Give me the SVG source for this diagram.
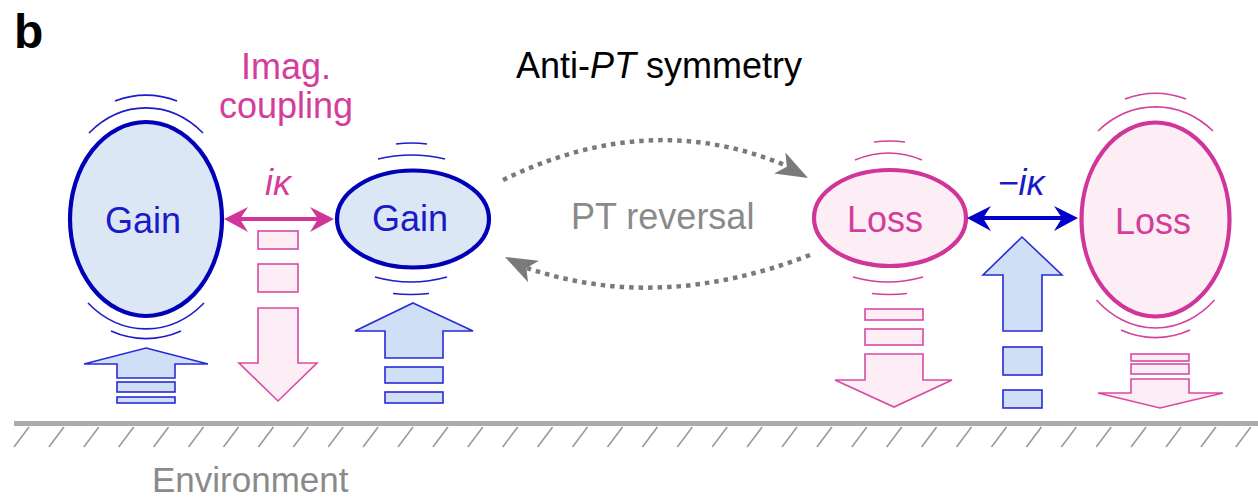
<svg xmlns="http://www.w3.org/2000/svg" width="1258" height="500" viewBox="0 0 1258 500">
<style>
text{font-family:"Liberation Sans",Arial,sans-serif;font-size:36px}
.blueNode{fill:#dce7f5;stroke:#0000b8;stroke-width:4.2}
.pinkNode{fill:#fdedf5;stroke:#d0359a;stroke-width:4.2}
.bArc{fill:none;stroke:#1c1ccc;stroke-width:1.6}
.pArc{fill:none;stroke:#d4409e;stroke-width:1.6}
.bArrow{fill:#cfe0f6;stroke:#2a2ad8;stroke-width:1.6;stroke-linejoin:miter}
.pArrow{fill:#fdeef6;stroke:#d84aa2;stroke-width:1.6;stroke-linejoin:miter}
.bt{fill:#1a1ac8;text-anchor:middle}
.pt{fill:#d43d9c;text-anchor:middle}
.gray{fill:#8a8a8a}
.dots{fill:none;stroke:#7a7a7a;stroke-width:4.5;stroke-dasharray:4.5 5}
.hatch{stroke:#9a9a9a;stroke-width:1.6}
</style>
<text x="14" y="48" style="font-size:48px;font-weight:bold;fill:#000">b</text>
<text x="516" y="78" style="fill:#000">Anti-<tspan font-style="italic">PT</tspan> symmetry</text>
<text x="286" y="79" class="pt">Imag.</text>
<text x="286" y="118" class="pt">coupling</text>

<g id="gain1">
<ellipse cx="146" cy="219" rx="76" ry="97" class="blueNode"/>
<text x="143" y="233" class="bt">Gain</text>
<path class="bArc" d="M89,133 A90,111 0 0 1 203,133"/>
<path class="bArc" d="M115,101 A103,124 0 0 1 177,101"/>
<path class="bArc" d="M88,303 A90,110 0 0 0 204,303"/>
<path class="bArc" d="M111,331 A100,120 0 0 0 181,331"/>
<polygon class="bArrow" points="146,348 208,364 175,364 175,378 117,378 117,364 84,364"/>
<rect class="bArrow" x="117" y="382" width="58" height="10"/>
<rect class="bArrow" x="117" y="397" width="58" height="6"/>
</g>

<g id="gain2">
<ellipse cx="413" cy="219" rx="76" ry="48.5" class="blueNode"/>
<text x="410" y="231" class="bt">Gain</text>
<path class="bArc" d="M396,144 Q411.5,142 427,144"/>
<path class="bArc" d="M378,159 Q411.5,151 445,159"/>
<path class="bArc" d="M375,277 Q411,287 447,277"/>
<path class="bArc" d="M393,293.5 Q411,295.5 429,293.5"/>
<polygon class="bArrow" points="413,303 473,331 443,331 443,358 385,358 385,331 355,331"/>
<rect class="bArrow" x="385" y="367" width="58" height="16"/>
<rect class="bArrow" x="385" y="392" width="58" height="11"/>
</g>

<g id="loss1">
<ellipse cx="890" cy="218" rx="76" ry="48" class="pinkNode"/>
<text x="885" y="232" class="pt">Loss</text>
<path class="pArc" d="M874,142 Q889.5,140 905,142"/>
<path class="pArc" d="M855,160 Q888.5,146 922,160"/>
<path class="pArc" d="M853,277 Q888,287 923,277"/>
<path class="pArc" d="M872,293.5 Q889.5,295.5 907,293.5"/>
<rect class="pArrow" x="865" y="309" width="58" height="11"/>
<rect class="pArrow" x="865" y="329" width="58" height="16"/>
<polygon class="pArrow" points="865,354 923,354 923,380 952,380 894,407 835,380 865,380"/>
</g>

<g id="loss2">
<ellipse cx="1155.5" cy="219.5" rx="74" ry="97" class="pinkNode"/>
<text x="1153" y="234" class="pt">Loss</text>
<path class="pArc" d="M1098,131 A93,112.5 0 0 1 1213,131"/>
<path class="pArc" d="M1125,99 A103,126.5 0 0 1 1186,99"/>
<path class="pArc" d="M1096.5,300 A88,108.5 0 0 0 1214.5,300"/>
<path class="pArc" d="M1121,330 A98,118.5 0 0 0 1190,330"/>
<rect class="pArrow" x="1131" y="354" width="58" height="7"/>
<rect class="pArrow" x="1131" y="364" width="58" height="10"/>
<polygon class="pArrow" points="1131,379 1189,379 1189,393 1223,393 1160,408 1098,393 1131,393"/>
</g>

<g id="imagDown">
<rect class="pArrow" x="258" y="231" width="40" height="18"/>
<rect class="pArrow" x="258" y="264" width="40" height="28"/>
<polygon class="pArrow" points="258,308 298,308 298,363 317,363 278,401 239,363 258,363"/>
</g>

<g id="blueUp">
<polygon class="bArrow" points="1022,237 1062,275 1042,275 1042,331 1003,331 1003,275 983,275"/>
<rect class="bArrow" x="1003" y="347" width="39" height="28"/>
<rect class="bArrow" x="1003" y="390" width="39" height="18"/>
</g>

<g id="connectors">
<line x1="240" y1="219" x2="318" y2="219" stroke="#d0359a" stroke-width="4"/>
<path d="M224,219 L248,207 L240,219 L248,232 Z" fill="#d0359a"/>
<path d="M334,219 L310,207 L318,219 L310,232 Z" fill="#d0359a"/>
<text x="278" y="195" class="pt" font-style="italic">iκ</text>

<line x1="983" y1="218" x2="1062" y2="218" stroke="#0000cc" stroke-width="4"/>
<path d="M967,218 L991,206 L983,218 L991,231 Z" fill="#0000cc"/>
<path d="M1078,218 L1054,206 L1062,218 L1054,231 Z" fill="#0000cc"/>
<text x="1021" y="195" class="bt" font-style="italic">−iκ</text>

<path class="dots" d="M503,180 Q650,108 787,166"/>
<path d="M0,0 L-32,-12 L-24,0 L-32,12 Z" fill="#7a7a7a" transform="translate(808,178) rotate(28)"/>
<path class="dots" d="M810,255 Q660,313 527,268"/>
<path d="M0,0 L-32,-12 L-24,0 L-32,12 Z" fill="#7a7a7a" transform="translate(505,257) rotate(207)"/>
<text x="571" y="229" class="gray">PT reversal</text>
</g>

<g id="environment">
<line x1="14" y1="423.5" x2="1258" y2="423.5" stroke="#ababab" stroke-width="5"/>
<g class="hatch">
<line x1="14" y1="447" x2="29" y2="427"/><line x1="48.9" y1="447" x2="63.9" y2="427"/><line x1="83.8" y1="447" x2="98.8" y2="427"/><line x1="118.7" y1="447" x2="133.7" y2="427"/><line x1="153.6" y1="447" x2="168.6" y2="427"/><line x1="188.5" y1="447" x2="203.5" y2="427"/><line x1="223.5" y1="447" x2="238.5" y2="427"/><line x1="258.4" y1="447" x2="273.4" y2="427"/><line x1="293.3" y1="447" x2="308.3" y2="427"/><line x1="328.2" y1="447" x2="343.2" y2="427"/><line x1="363.1" y1="447" x2="378.1" y2="427"/><line x1="398" y1="447" x2="413" y2="427"/><line x1="432.9" y1="447" x2="447.9" y2="427"/><line x1="467.8" y1="447" x2="482.8" y2="427"/><line x1="502.7" y1="447" x2="517.7" y2="427"/><line x1="537.6" y1="447" x2="552.6" y2="427"/><line x1="572.5" y1="447" x2="587.5" y2="427"/><line x1="607.5" y1="447" x2="622.5" y2="427"/><line x1="642.4" y1="447" x2="657.4" y2="427"/><line x1="677.3" y1="447" x2="692.3" y2="427"/><line x1="712.2" y1="447" x2="727.2" y2="427"/><line x1="747.1" y1="447" x2="762.1" y2="427"/><line x1="782" y1="447" x2="797" y2="427"/><line x1="816.9" y1="447" x2="831.9" y2="427"/><line x1="851.8" y1="447" x2="866.8" y2="427"/><line x1="886.7" y1="447" x2="901.7" y2="427"/><line x1="921.6" y1="447" x2="936.6" y2="427"/><line x1="956.5" y1="447" x2="971.5" y2="427"/><line x1="991.5" y1="447" x2="1006.5" y2="427"/><line x1="1026.4" y1="447" x2="1041.4" y2="427"/><line x1="1061.3" y1="447" x2="1076.3" y2="427"/><line x1="1096.2" y1="447" x2="1111.2" y2="427"/><line x1="1131.1" y1="447" x2="1146.1" y2="427"/><line x1="1166" y1="447" x2="1181" y2="427"/><line x1="1200.9" y1="447" x2="1215.9" y2="427"/><line x1="1235.8" y1="447" x2="1250.8" y2="427"/>
</g>
<text x="152" y="492" class="gray" style="font-size:35px">Environment</text>
</g>
</svg>
